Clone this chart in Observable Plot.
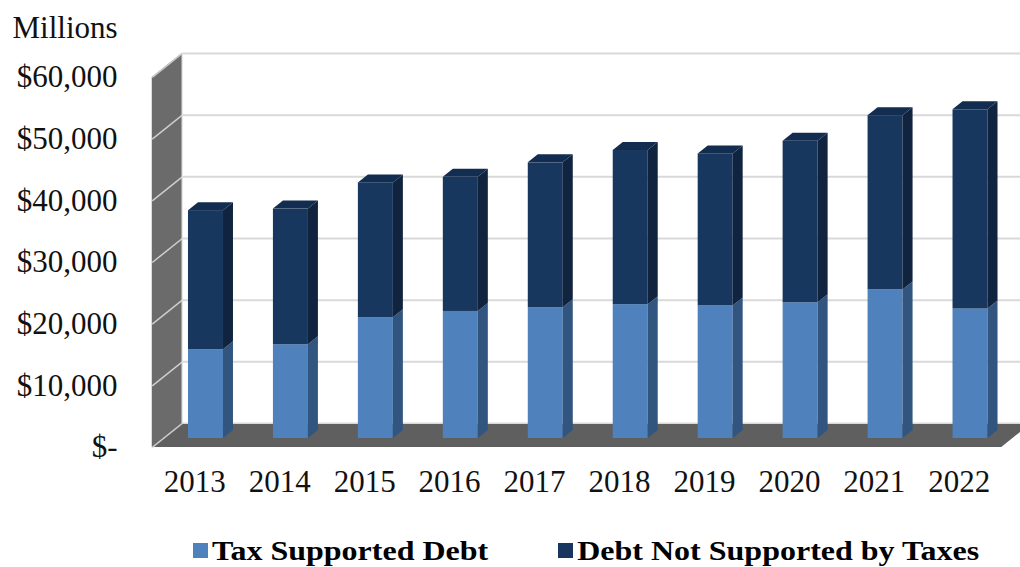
<!DOCTYPE html>
<html><head><meta charset="utf-8">
<script src="https://cdn.jsdelivr.net/npm/d3@7"></script>
<script src="https://cdn.jsdelivr.net/npm/@observablehq/plot@0.6"></script>
<style>
body{margin:0;background:#fff;}
#chart svg{display:block;}
#legend{display:flex;align-items:center;height:44px;font-family:"Liberation Serif",serif;font-weight:bold;font-size:32px;color:#000;}
#legend .sw{width:15px;height:15px;display:inline-block;margin-right:4px;}
#legend .item{display:flex;align-items:center;white-space:nowrap;}
#legend .lbl{display:inline-block;transform:scaleY(0.88);}
</style></head><body>
<div id="chart"></div>
<div id="legend"></div>
<script>
// ---- data ----
const years = ["2013","2014","2015","2016","2017","2018","2019","2020","2021","2022"];
const taxSupported = [14400, 15200, 19600, 20600, 21200, 21700, 21500, 22000, 24100, 21000];
const notSupported = [22550, 22000, 21850, 21750, 23500, 25000, 24650, 26200, 28250, 32300];
const yTicks = [0, 10000, 20000, 30000, 40000, 50000, 60000];
const yTickLabels = ["$-", "$10,000", "$20,000", "$30,000", "$40,000", "$50,000", "$60,000"];
const seriesNames = ["Tax Supported Debt", "Debt Not Supported by Taxes"];
const axisTitle = "Millions";

// ---- styles ----
const frontColors = ["#4f81bd", "#17375e"];
const sideColors = ["#31557f", "#10233f"];
const topColor = "#132d50";
const wallColor = "#6b6b6b";
const floorColor = "#5f5f5f";
const gridColor = "#d9d9d9";

const W = 1020, H = 528, mL = 163, mR = 7.5, mT = 68, mB = 90;
const xDom = [-0.5, years.length - 0.5], yDom = [0, 60000];
const px = (xDom[1] - xDom[0]) / (W - mL - mR);   // data units per pixel (x)
const py = (yDom[1] - yDom[0]) / (H - mT - mB);   // data units per pixel (y)
const BACK = {dx: 18.75, dy: 15}, FRONT = {dx: -11.25, dy: -9}, DEPTH = {dx: 10, dy: 8};
const HW = 17.5 * px;

// stacked segments
const segs = [];
years.forEach((yr, i) => {
  segs.push({i, s: 0, y0: 0, y1: taxSupported[i], k: "t" + i});
  segs.push({i, s: 1, y0: taxSupported[i], y1: taxSupported[i] + notSupported[i], k: "n" + i});
});
const sidePts = segs.flatMap(d => [
  {k: d.k, s: d.s, x: d.i + HW, y1: d.y0, y2: d.y1},
  {k: d.k, s: d.s, x: d.i + HW + DEPTH.dx * px, y1: d.y0 + DEPTH.dy * py, y2: d.y1 + DEPTH.dy * py}
]);
const topPts = segs.filter(d => d.s === 1).flatMap(d => [
  {k: d.k, y: d.y1, x1: d.i - HW, x2: d.i + HW},
  {k: d.k, y: d.y1 + DEPTH.dy * py, x1: d.i - HW + DEPTH.dx * px, x2: d.i + HW + DEPTH.dx * px}
]);
const wallPts = [
  {x: xDom[0] + FRONT.dx * px, y1: yDom[0] + FRONT.dy * py, y2: yDom[1] + FRONT.dy * py},
  {x: xDom[0] + BACK.dx * px, y1: yDom[0] + BACK.dy * py, y2: yDom[1] + BACK.dy * py}
];
const floorPts = [
  {y: FRONT.dy * py, x1: xDom[0] + FRONT.dx * px, x2: xDom[1] + FRONT.dx * px},
  {y: BACK.dy * py, x1: xDom[0] + BACK.dx * px, x2: xDom[1] + BACK.dx * px}
];

const chart = Plot.plot({
  width: W, height: H,
  marginLeft: mL, marginRight: mR, marginTop: mT, marginBottom: mB,
  style: {background: "#fff", fontFamily: "Liberation Serif, serif", overflow: "visible"},
  x: {domain: xDom, axis: null},
  y: {domain: yDom, axis: null},
  marks: [
    // back wall gridlines
    Plot.link(yTicks, {x1: xDom[0] + BACK.dx * px, x2: xDom[1] + 40 * px,
      y1: d => d + BACK.dy * py, y2: d => d + BACK.dy * py, stroke: gridColor, strokeWidth: 2}),
    // floor
    Plot.areaX(floorPts, {y: "y", x1: "x1", x2: "x2", fill: floorColor}),
    Plot.link([0], {x1: xDom[0] + BACK.dx * px, x2: xDom[1] + BACK.dx * px,
      y1: d => d + BACK.dy * py, y2: d => d + BACK.dy * py, stroke: gridColor, strokeWidth: 1}),
    // left wall
    Plot.areaY(wallPts, {x: "x", y1: "y1", y2: "y2", fill: wallColor}),
    Plot.link(yTicks, {x1: xDom[0] + FRONT.dx * px, y1: d => d + FRONT.dy * py,
      x2: xDom[0] + BACK.dx * px, y2: d => d + BACK.dy * py, stroke: "#cfcfcf", strokeWidth: 1.5}),
    Plot.link([0], {x1: xDom[0] + BACK.dx * px, y1: yDom[0] + BACK.dy * py,
      x2: xDom[0] + BACK.dx * px, y2: yDom[1] + BACK.dy * py, stroke: "#e0e0e0", strokeWidth: 1}),
    // bars: front faces
    Plot.rect(segs, {x1: d => d.i - HW, x2: d => d.i + HW, y1: "y0", y2: "y1",
      fill: d => frontColors[d.s]}),
    // side faces
    Plot.areaY(sidePts.filter(d => d.s === 0), {x: "x", y1: "y1", y2: "y2", z: "k", fill: sideColors[0]}),
    Plot.areaY(sidePts.filter(d => d.s === 1), {x: "x", y1: "y1", y2: "y2", z: "k", fill: sideColors[1]}),
    // top faces
    Plot.areaX(topPts, {y: "y", x1: "x1", x2: "x2", z: "k", fill: topColor}),
    // y tick labels (front plane)
    Plot.text(yTicks, {y: d => d, frameAnchor: "left", text: (d, j) => yTickLabels[j],
      textAnchor: "end", dx: -46, dy: -FRONT.dy, fontSize: 31, fill: "#111"}),
    // year labels
    Plot.text(years, {x: (d, i) => i, y: 0, text: d => d, dy: 44, dx: FRONT.dx, fontSize: 31, fill: "#111"}),
    // axis title
    Plot.text([axisTitle], {frameAnchor: "top-left", text: d => d, textAnchor: "start", lineAnchor: "middle",
      dx: 12 - mL, dy: 28 - mT, fontSize: 31, fill: "#111"})
  ]
});
document.getElementById("chart").appendChild(chart);

// legend
const legend = document.getElementById("legend");
const gaps = [193, 70];
seriesNames.forEach((n, j) => {
  const it = document.createElement("div");
  it.className = "item";
  it.style.marginLeft = gaps[j] + "px";
  const sw = document.createElement("span");
  sw.className = "sw"; sw.style.background = frontColors[j];
  const t = document.createElement("span"); t.className = "lbl"; t.textContent = n;
  it.appendChild(sw); it.appendChild(t);
  legend.appendChild(it);
});
</script>
</body></html>
